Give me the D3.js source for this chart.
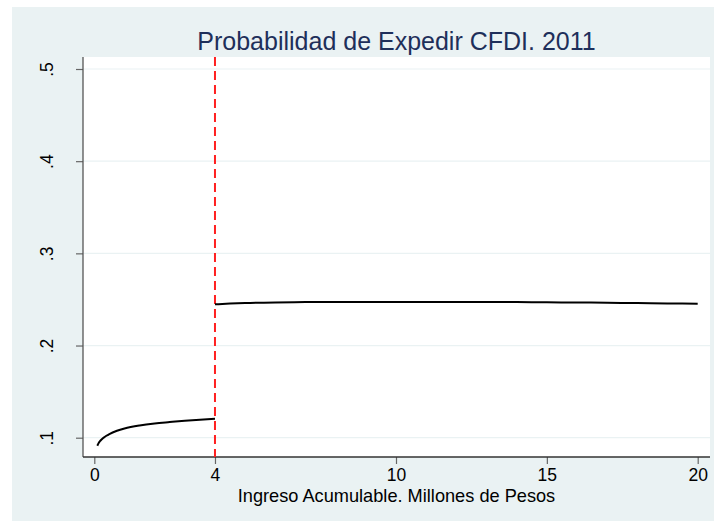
<!DOCTYPE html>
<html>
<head>
<meta charset="utf-8">
<script src="https://cdn.jsdelivr.net/npm/d3@7"></script>
<style>
  html, body { margin: 0; padding: 0; background: #ffffff; }
  svg { display: block; font-family: "Liberation Sans", Arial, sans-serif; }
</style>
</head>
<body>
<svg id="chart" width="714" height="521"></svg>
<script>
// ---- data ----
const title = "Probabilidad de Expedir CFDI. 2011";
const xTitle = "Ingreso Acumulable. Millones de Pesos";
const xTicks = [0, 4, 10, 15, 20];
const yTicks = [0.1, 0.2, 0.3, 0.4, 0.5];
const yTickLabels = [".1", ".2", ".3", ".4", ".5"];
const cutoff = 4;

const lowX = [0.1, 0.15, 0.2, 0.3, 0.4, 0.5, 0.75, 1, 1.5, 2, 2.5, 3, 3.5, 4];
const lowY = [0.0913, 0.0945, 0.0967, 0.0998, 0.1021, 0.1040, 0.1075, 0.1100, 0.1133, 0.1155, 0.1170, 0.1184, 0.1196, 0.1206];

const highX = [4, 4.5, 5, 6, 7, 8, 10, 12, 14, 15, 16, 17, 18, 19, 20];
const highY = [0.2447, 0.2455, 0.2461, 0.2468, 0.2471, 0.2472, 0.2473, 0.2473, 0.2471, 0.2469, 0.2467, 0.2464, 0.2461, 0.2457, 0.2453];

// ---- layout ----
const W = 714, H = 521;
const outer = {x: 12, y: 7};
const plot = {left: 83, right: 710, top: 57, bottom: 457};

const svg = d3.select("#chart");

svg.append("rect").attr("x", outer.x).attr("y", outer.y)
  .attr("width", W - outer.x).attr("height", H - outer.y)
  .attr("fill", "#eaf2f3");

svg.append("rect").attr("x", plot.left).attr("y", plot.top)
  .attr("width", plot.right - plot.left).attr("height", plot.bottom - plot.top)
  .attr("fill", "#ffffff");

const x = d3.scaleLinear().domain([0, 20]).range([94.3, 697.7]);
const y = d3.scaleLinear().domain([0.1, 0.5]).range([437.7, 69]);

// grid lines
svg.append("g").selectAll("line").data(yTicks).join("line")
  .attr("x1", plot.left).attr("x2", plot.right)
  .attr("y1", d => y(d)).attr("y2", d => y(d))
  .attr("stroke", "#eaf2f3").attr("stroke-width", 1.2);

// y axis
const yAxis = d3.axisLeft(y).tickValues(yTicks).tickSize(7).tickPadding(0)
  .tickFormat((d, i) => yTickLabels[i]);
const gy = svg.append("g").attr("transform", `translate(${plot.left},0)`).call(yAxis);
gy.select(".domain").remove();
gy.selectAll(".tick line").attr("stroke", "#666").attr("stroke-width", 1.2);
gy.selectAll(".tick text")
  .attr("transform", "rotate(-90)")
  .attr("x", 0).attr("y", -30)
  .attr("dy", 0)
  .attr("text-anchor", "middle")
  .attr("font-size", 17.5).attr("fill", "#000");
svg.append("line").attr("x1", plot.left).attr("x2", plot.left)
  .attr("y1", plot.top).attr("y2", plot.bottom)
  .attr("stroke", "#555").attr("stroke-width", 1.3);

// x axis
const xAxis = d3.axisBottom(x).tickValues(xTicks).tickSize(7).tickPadding(5)
  .tickFormat(d3.format("d"));
const gx = svg.append("g").attr("transform", `translate(0,${plot.bottom})`).call(xAxis);
gx.select(".domain").remove();
gx.selectAll(".tick line").attr("stroke", "#666").attr("stroke-width", 1.2);
gx.selectAll(".tick text").attr("font-size", 17.5).attr("fill", "#000");
svg.append("line").attr("x1", plot.left).attr("x2", plot.right)
  .attr("y1", plot.bottom).attr("y2", plot.bottom)
  .attr("stroke", "#333").attr("stroke-width", 1.3);

// cutoff line
svg.append("line")
  .attr("x1", x(cutoff)).attr("x2", x(cutoff))
  .attr("y1", plot.top).attr("y2", plot.bottom)
  .attr("stroke", "#ff2020").attr("stroke-width", 2)
  .attr("stroke-dasharray", "9,5");

// curves
const line = d3.line().x(d => x(d[0])).y(d => y(d[1])).curve(d3.curveMonotoneX);
svg.append("path").datum(lowX.map((v, i) => [v, lowY[i]]))
  .attr("d", line).attr("fill", "none").attr("stroke", "#000").attr("stroke-width", 2);
svg.append("path").datum(highX.map((v, i) => [v, highY[i]]))
  .attr("d", line).attr("fill", "none").attr("stroke", "#000").attr("stroke-width", 2);

// titles
svg.append("text").attr("x", (plot.left + plot.right) / 2).attr("y", 50)
  .attr("text-anchor", "middle").attr("font-size", 25).attr("fill", "#1e2f5a")
  .text(title);
svg.append("text").attr("x", (plot.left + plot.right) / 2).attr("y", 502)
  .attr("text-anchor", "middle").attr("font-size", 18.2).attr("fill", "#000")
  .text(xTitle);
</script>
</body>
</html>
